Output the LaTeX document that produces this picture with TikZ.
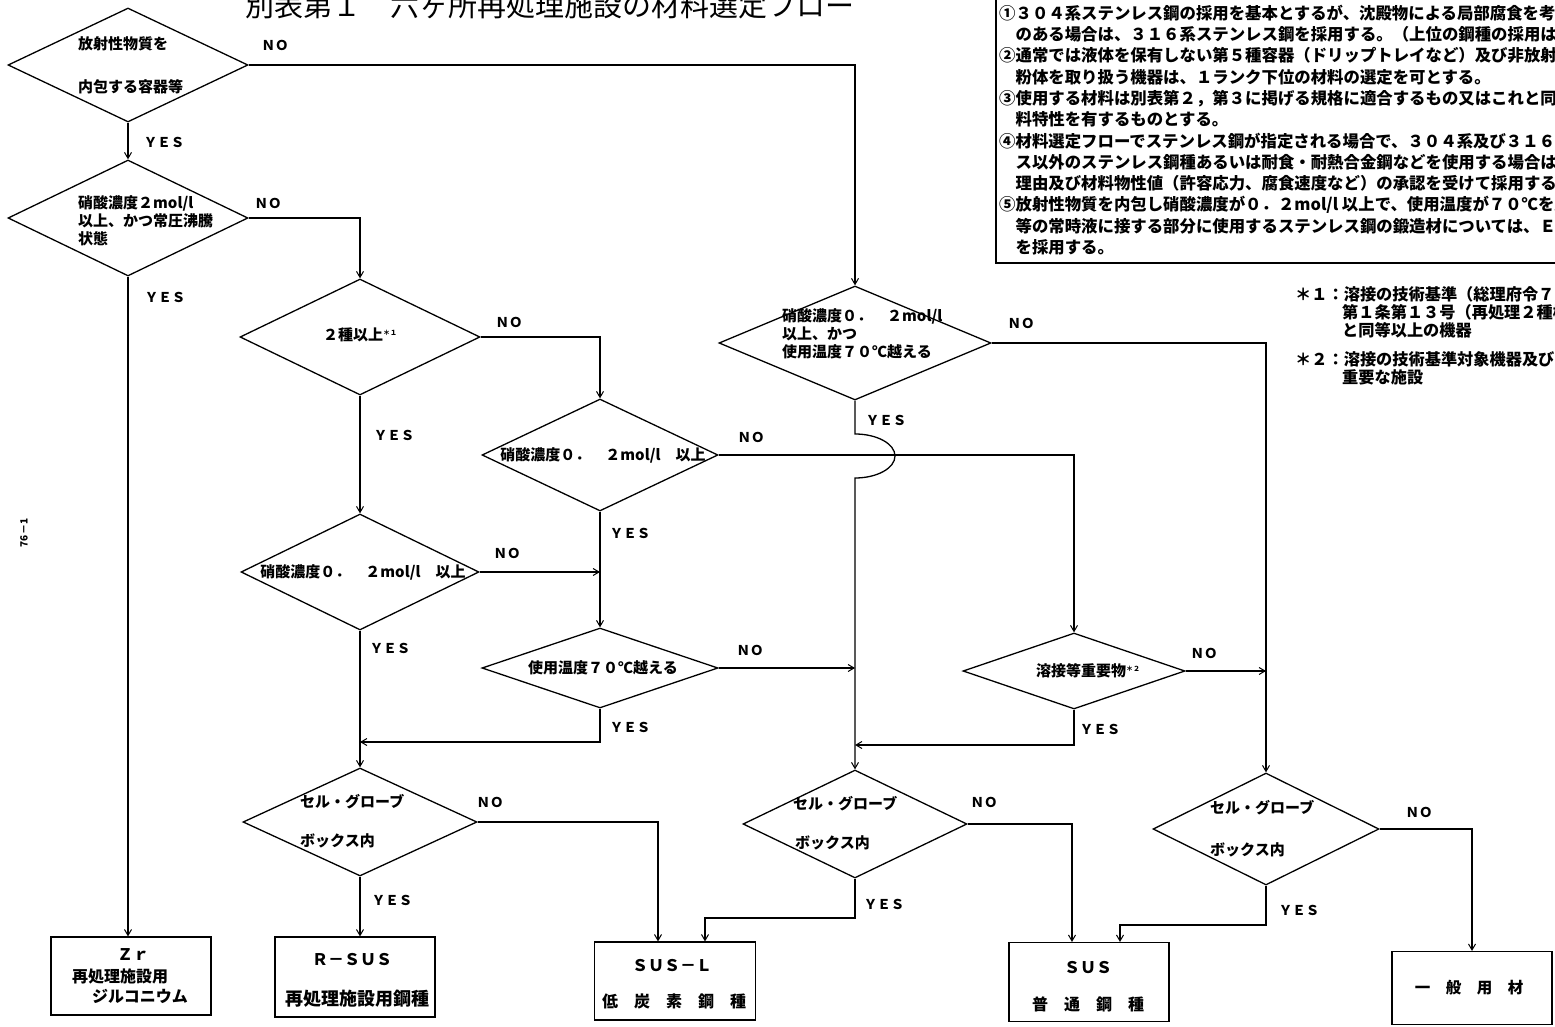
\documentclass[tikz,border=0pt]{standalone}
\usepackage{fontspec}
\newfontfamily\jp{Noto Sans CJK JP}
\usetikzlibrary{shapes.geometric,arrows.meta}
\begin{document}
\begin{tikzpicture}[x=1pt,y=-1pt,
  ln/.style={line width=1.3pt},
  arr/.style={line width=1.3pt,-{Straight Barb[length=6pt,width=7pt,line width=1pt]}},
  dia/.style={diamond,draw,line width=1.3pt,inner sep=0pt},
  box/.style={rectangle,draw,line width=1.1pt,inner sep=0pt},
  lab/.style={font=\jp\bfseries\fontsize{13.5}{13.5}\selectfont,inner sep=0pt},
  dt/.style={font=\jp\bfseries\fontsize{15}{18}\selectfont,inner sep=0pt,align=left},
  dtw/.style={dt,anchor=west},
  bt/.style={font=\jp\bfseries\fontsize{16}{16}\selectfont,inner sep=0pt},
  nt/.style={font=\jp\bfseries\fontsize{16.4}{16.4}\selectfont,inner sep=0pt,anchor=west},
  ft/.style={font=\jp\bfseries\fontsize{16.2}{16.2}\selectfont,inner sep=0pt,anchor=west}
  ]
\useasboundingbox (0,0) rectangle (1555,1027);
\fill[white] (0,0) rectangle (1555,1027);

% title
\node[font=\jp\fontsize{29}{29}\selectfont,anchor=west,inner sep=0pt] (title) at (245,5) {別表第１　六ヶ所再処理施設の材料選定フロー};

% page number
\node[font=\jp\bfseries\fontsize{10}{10}\selectfont,rotate=90,inner sep=0pt] (pg) at (24,533) {76－1};

% notes box
\draw[ln] (1560,263) -- (996,263) -- (996,-5);
\node[nt] (n1) at (999,13) {①３０４系ステンレス鋼の採用を基本とするが、沈殿物による局部腐食を考慮};
\node[nt] (n2) at (999,34.3) {　のある場合は、３１６系ステンレス鋼を採用する。（上位の鋼種の採用は可};
\node[nt] (n3) at (999,55.6) {②通常では液体を保有しない第５種容器（ドリップトレイなど）及び非放射性};
\node[nt] (n4) at (999,76.9) {　粉体を取り扱う機器は、１ランク下位の材料の選定を可とする。};
\node[nt] (n5) at (999,98.2) {③使用する材料は別表第２，第３に掲げる規格に適合するもの又はこれと同等};
\node[nt] (n6) at (999,119.5) {　料特性を有するものとする。};
\node[nt] (n7) at (999,140.8) {④材料選定フローでステンレス鋼が指定される場合で、３０４系及び３１６系};
\node[nt] (n8) at (999,162.1) {　ス以外のステンレス鋼種あるいは耐食・耐熱合金鋼などを使用する場合は、};
\node[nt] (n9) at (999,183.4) {　理由及び材料物性値（許容応力、腐食速度など）の承認を受けて採用する。};
\node[nt] (n10) at (999,204.7) {⑤放射性物質を内包し硝酸濃度が０．２mol/l 以上で、使用温度が７０℃を越};
\node[nt] (n11) at (999,226) {　等の常時液に接する部分に使用するステンレス鋼の鍛造材については、ＥＳ};
\node[nt] (n12) at (999,247.3) {　を採用する。};

% footnotes
\node[ft] (f1) at (1295,294) {＊１：溶接の技術基準（総理府令７３};
\node[ft] (f2) at (1342,312) {第１条第１３号（再処理２種機器）};
\node[ft] (f3) at (1342,330) {と同等以上の機器};
\node[ft] (f4) at (1295,359) {＊２：溶接の技術基準対象機器及び安全};
\node[ft] (f5) at (1342,377) {重要な施設};

% diamonds
\node[dia,minimum width=240pt,minimum height=114pt] (d1) at (128,65) {};
\node[dtw] (t1a) at (78,44) {放射性物質を};
\node[dtw] (t1b) at (78,87) {内包する容器等};

\node[dia,minimum width=240pt,minimum height=116pt] (d2) at (128,218) {};
\node[dtw] (t2) at (78,221) {硝酸濃度２mol/l\\以上、かつ常圧沸騰\\状態};

\node[dia,minimum width=240pt,minimum height=116pt] (d3) at (360,337) {};
\node[dt] (t3) at (360,335) {２種以上\raisebox{5pt}{\fontsize{7}{7}\selectfont ＊１}};

\node[dia,minimum width=236pt,minimum height=112pt] (d4) at (600,455) {};
\node[dt] (t4) at (603,455) {硝酸濃度０．　２mol/l　以上};

\node[dia,minimum width=272pt,minimum height=114pt] (d5) at (855,343) {};
\node[dtw] (t5) at (782,334) {硝酸濃度０．　２mol/l\\以上、かつ\\使用温度７０℃越える};

\node[dia,minimum width=238pt,minimum height=116pt] (d6) at (360,572) {};
\node[dt] (t6) at (363,572) {硝酸濃度０．　２mol/l　以上};

\node[dia,minimum width=236pt,minimum height=80pt] (d7) at (600,668) {};
\node[dt] (t7) at (603,668) {使用温度７０℃越える};

\node[dia,minimum width=222pt,minimum height=76pt] (d8) at (1074,671) {};
\node[dt] (t8) at (1088,671) {溶接等重要物\raisebox{5pt}{\fontsize{7}{7}\selectfont ＊２}};

\node[dia,minimum width=234pt,minimum height=108pt] (d11) at (360,822) {};
\node[dtw] (t11a) at (300,802) {セル・グローブ};
\node[dtw] (t11b) at (300,841) {ボックス内};

\node[dia,minimum width=224pt,minimum height=108pt] (d9) at (855,824) {};
\node[dtw] (t9a) at (793,804) {セル・グローブ};
\node[dtw] (t9b) at (795,843) {ボックス内};

\node[dia,minimum width=226pt,minimum height=112pt] (d10) at (1266,829) {};
\node[dtw] (t10a) at (1210,808) {セル・グローブ};
\node[dtw] (t10b) at (1210,850) {ボックス内};

% result boxes
\node[box,minimum width=160pt,minimum height=78pt] (zr) at (131,976) {};
\node[bt] (zr1) at (133,955) {Ｚｒ};
\node[bt] (zr2) at (120,976) {再処理施設用};
\node[bt] (zr3) at (140,996) {ジルコニウム};

\node[box,minimum width=160pt,minimum height=80pt] (rsus) at (355,977) {};
\node[bt] (rs1) at (352,960) {Ｒ－ＳＵＳ};
\node[font=\jp\bfseries\fontsize{18}{18}\selectfont,inner sep=0pt] (rs2) at (357,999) {再処理施設用鋼種};

\node[box,minimum width=161pt,minimum height=78pt] (susl) at (675,981) {};
\node[bt] (sl1) at (672,966) {ＳＵＳ－Ｌ};
\node[bt] (sl2) at (674,1001) {低　炭　素　鋼　種};

\node[box,minimum width=160pt,minimum height=79pt] (sus) at (1089,982) {};
\node[bt] (su1) at (1088,968) {ＳＵＳ};
\node[bt] (su2) at (1088,1004) {普　通　鋼　種};

\node[box,minimum width=160pt,minimum height=73pt] (ippan) at (1472,988) {};
\node[font=\jp\bfseries\fontsize{15.5}{15.5}\selectfont,inner sep=0pt] (ip) at (1469,988) {一　般　用　材};

% junction coordinates
\coordinate (j3) at (360,742);
\coordinate (j4) at (855,745);
\coordinate (b1) at (658,822);
\coordinate (b2) at (705,918);
\coordinate (b3) at (1072,824);
\coordinate (b4) at (1120,925);
\coordinate (b5) at (1472,829);

% connectors
\draw[arr] (d1.east) -| (d5.north);
\draw[arr] (d1.south) -- (d2.north);
\draw[arr] (d2.east) -| (d3.north);
\draw[arr] (d2.south) -- (d2.south |- zr.north);
\draw[arr] (d3.east) -| (d4.north);
\draw[arr] (d3.south) -- (d6.north);
\draw[arr] (d4.east) -| (d8.north);
\draw[arr] (d4.south) -- (d7.north);
\draw[arr] (d5.east) -| (d10.north);
\draw[arr] (d5.south) -- (855,434) arc[start angle=-90,end angle=90,x radius=40,y radius=22] -- (d9.north);
\draw[arr] (d6.east) -- (d6.east -| d4.south);
\draw[arr] (d6.south) -- (d11.north);
\draw[arr] (d7.east) -- (d7.east -| d5.south);
\draw[arr] (d7.south) |- (j3);
\draw[arr] (d8.east) -- (d8.east -| d10.north);
\draw[arr] (d8.south) |- (j4);
\draw[arr] (d11.east) -- (b1) -- (b1 |- susl.north);
\draw[arr] (d11.south) -- (d11.south |- rsus.north);
\draw[arr] (d9.south) |- (b2) -- (b2 |- susl.north);
\draw[arr] (d9.east) -- (b3) -- (b3 |- sus.north);
\draw[arr] (d10.south) |- (b4) -- (b4 |- sus.north);
\draw[arr] (d10.east) -- (b5) -- (b5 |- ippan.north);

% YES / NO labels
\node[lab] (l1n) at (275,45) {ＮＯ};
\node[lab] (l1y) at (164,142) {ＹＥＳ};
\node[lab] (l2n) at (268,203) {ＮＯ};
\node[lab] (l2y) at (165,297) {ＹＥＳ};
\node[lab] (l3n) at (509,322) {ＮＯ};
\node[lab] (l3y) at (394,435) {ＹＥＳ};
\node[lab] (l4n) at (751,437) {ＮＯ};
\node[lab] (l4y) at (630,533) {ＹＥＳ};
\node[lab] (l5n) at (1021,323) {ＮＯ};
\node[lab] (l5y) at (886,420) {ＹＥＳ};
\node[lab] (l6n) at (507,553) {ＮＯ};
\node[lab] (l6y) at (390,648) {ＹＥＳ};
\node[lab] (l7n) at (750,650) {ＮＯ};
\node[lab] (l7y) at (630,727) {ＹＥＳ};
\node[lab] (l8n) at (1204,653) {ＮＯ};
\node[lab] (l8y) at (1100,729) {ＹＥＳ};
\node[lab] (l11n) at (490,802) {ＮＯ};
\node[lab] (l11y) at (392,900) {ＹＥＳ};
\node[lab] (l9n) at (984,802) {ＮＯ};
\node[lab] (l9y) at (884,904) {ＹＥＳ};
\node[lab] (l10n) at (1419,812) {ＮＯ};
\node[lab] (l10y) at (1299,910) {ＹＥＳ};
\end{tikzpicture}
\end{document}
